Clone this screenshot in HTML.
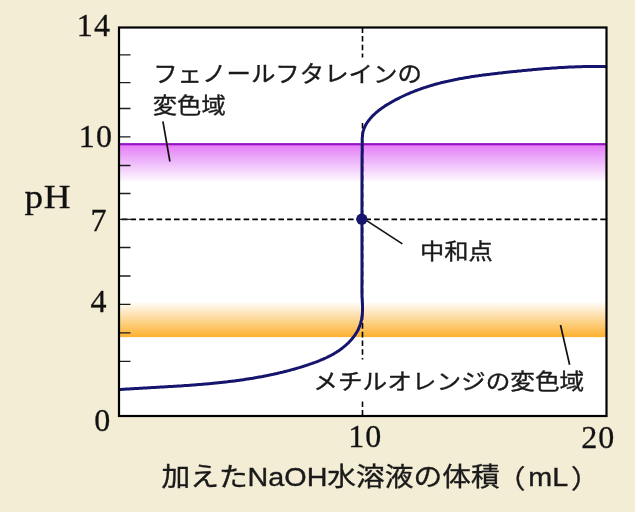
<!DOCTYPE html>
<html lang="ja">
<head>
<meta charset="utf-8">
<title>中和滴定曲線</title>
<style>
html,body{margin:0;padding:0;background:#f4edd6;}
body{width:635px;height:512px;overflow:hidden;}
svg{display:block;}
.jp{font-family:"Liberation Sans","Noto Sans CJK JP",sans-serif;fill:#1a1a1a;}
.num{font-family:"Liberation Serif",serif;fill:#111;}
</style>
</head>
<body>
<svg width="635" height="512" viewBox="0 0 635 512">
  <defs>
    <linearGradient id="gp" x1="0" y1="0" x2="0" y2="1">
      <stop offset="0" stop-color="#e67af6"/>
      <stop offset="0.4" stop-color="#ecb0fa"/>
      <stop offset="1" stop-color="#ffffff"/>
    </linearGradient>
    <linearGradient id="go" x1="0" y1="0" x2="0" y2="1">
      <stop offset="0" stop-color="#ffffff"/>
      <stop offset="1" stop-color="#fcb02e"/>
    </linearGradient>
  </defs>
  <rect x="0" y="0" width="635" height="512" fill="#f4edd6"/>
  <!-- plot area -->
  <rect x="119" y="27.5" width="487.5" height="388.5" fill="#ffffff"/>
  <!-- indicator bands -->
  <rect x="119" y="144" width="487.5" height="39" fill="url(#gp)"/>
  <rect x="119" y="143.1" width="487.5" height="2.2" fill="#9514c6"/>
  <rect x="119" y="301.5" width="487.5" height="35.6" fill="url(#go)"/>
  <!-- dashed guides -->
  <path d="M121.8 219.3H606.5" stroke="#000" stroke-width="1.7" stroke-dasharray="5.6 3.1" fill="none"/>
  <path d="M362.5 27.3V416" stroke="#000" stroke-width="1.6" stroke-dasharray="5.6 3.1" fill="none"/>
  <!-- label backgrounds -->
  <rect x="150" y="57.5" width="280" height="64.5" fill="#ffffff"/>
  <rect x="312" y="359.5" width="275" height="41.5" fill="#ffffff"/>
  <!-- ticks -->
  <g stroke="#1c1c1c" stroke-width="1.3" fill="none">
    <path d="M119 54.8h11.5M119 82.7h11.5M119 108.5h11.5M119 136.9h11.5M119 165.5h11.5M119 193.5h11.5M119 219.3h11.5M119 247.5h11.5M119 276h11.5M119 304.3h11.5M119 332.8h11.5M119 361.4h11.5"/>
  </g>
  <!-- leader lines -->
  <g stroke="#111" stroke-width="1.7" fill="none">
    <path d="M162.9 121.3L169.9 161.5"/>
    <path d="M560.5 325L569.6 364.8"/>
    <path d="M362 217.6L402.4 243.9"/>
  </g>
  <!-- curve -->
  <path id="curve" d="M119.0 389.6 L120.1 389.5 L121.3 389.4 L122.5 389.3 L123.7 389.3 L124.9 389.2 L126.2 389.1 L127.4 389.0 L128.6 389.0 L129.8 388.9 L131.0 388.8 L132.2 388.7 L133.4 388.7 L134.7 388.6 L135.9 388.5 L137.1 388.5 L138.3 388.4 L139.5 388.3 L140.7 388.2 L142.0 388.2 L143.2 388.1 L144.4 388.0 L145.6 388.0 L146.8 387.9 L148.0 387.8 L149.3 387.8 L150.5 387.7 L151.7 387.6 L152.9 387.5 L154.2 387.5 L155.4 387.4 L156.6 387.3 L157.8 387.3 L159.0 387.2 L160.3 387.1 L161.5 387.1 L162.7 387.0 L163.9 386.9 L165.2 386.8 L166.4 386.8 L167.6 386.7 L168.8 386.6 L170.0 386.6 L171.3 386.5 L172.5 386.4 L173.7 386.3 L174.9 386.2 L176.2 386.2 L177.4 386.1 L178.6 386.0 L179.8 385.9 L181.1 385.9 L182.3 385.8 L183.5 385.7 L184.7 385.6 L186.0 385.5 L187.2 385.4 L188.4 385.4 L189.6 385.3 L190.9 385.2 L192.1 385.1 L193.3 385.0 L194.5 384.9 L195.8 384.8 L197.0 384.7 L198.2 384.6 L199.4 384.5 L200.6 384.4 L201.9 384.3 L203.1 384.2 L204.3 384.1 L205.5 384.0 L206.8 383.9 L208.0 383.8 L209.2 383.7 L210.4 383.6 L211.6 383.4 L212.9 383.3 L214.1 383.2 L215.3 383.1 L216.5 383.0 L217.7 382.8 L219.0 382.7 L220.2 382.6 L221.4 382.5 L222.6 382.3 L223.8 382.2 L225.1 382.0 L226.3 381.9 L227.5 381.8 L228.7 381.6 L229.9 381.5 L231.1 381.3 L232.3 381.2 L233.6 381.0 L234.8 380.9 L236.0 380.7 L237.2 380.5 L238.4 380.4 L239.6 380.2 L240.8 380.0 L242.0 379.9 L243.3 379.7 L244.5 379.5 L245.7 379.3 L246.9 379.1 L248.1 379.0 L249.3 378.8 L250.5 378.6 L251.7 378.4 L252.9 378.2 L254.1 378.0 L255.3 377.8 L256.5 377.6 L257.7 377.3 L258.9 377.1 L260.1 376.9 L261.3 376.7 L262.5 376.5 L263.7 376.2 L264.9 376.0 L266.1 375.8 L267.3 375.5 L268.5 375.3 L269.7 375.0 L270.9 374.8 L272.1 374.5 L273.3 374.3 L274.5 374.0 L275.7 373.7 L276.8 373.5 L278.0 373.2 L279.2 372.9 L280.4 372.6 L281.6 372.4 L282.8 372.1 L284.0 371.8 L285.1 371.5 L286.3 371.2 L287.5 370.9 L288.7 370.6 L289.9 370.3 L291.0 369.9 L292.2 369.6 L293.4 369.3 L294.6 369.0 L295.7 368.6 L296.9 368.3 L298.1 367.9 L299.3 367.6 L300.4 367.2 L301.6 366.9 L302.8 366.5 L303.9 366.1 L305.1 365.8 L306.3 365.4 L307.4 365.0 L308.6 364.6 L309.7 364.2 L310.9 363.8 L312.1 363.4 L313.2 363.0 L314.4 362.6 L315.5 362.2 L316.7 361.8 L317.8 361.3 L318.9 360.9 L320.1 360.4 L321.2 359.9 L322.3 359.5 L323.4 359.0 L324.6 358.5 L325.7 358.0 L326.8 357.5 L327.9 356.9 L329.0 356.4 L330.1 355.8 L331.1 355.3 L332.2 354.7 L333.3 354.1 L334.3 353.5 L335.4 352.8 L336.4 352.2 L337.4 351.5 L338.5 350.9 L339.5 350.2 L340.5 349.4 L341.5 348.7 L342.5 348.0 L343.4 347.2 L344.4 346.4 L345.3 345.6 L346.3 344.8 L347.2 343.9 L348.1 343.1 L349.0 342.2 L349.8 341.3 L350.7 340.4 L351.5 339.5 L352.3 338.5 L353.1 337.6 L353.8 336.6 L354.6 335.6 L355.3 334.6 L355.9 333.5 L356.6 332.5 L357.2 331.4 L357.8 330.4 L358.3 329.3 L358.8 328.2 L359.3 327.1 L359.7 325.9 L360.1 324.8 L360.5 323.6 L360.8 322.5 L361.1 321.3 L361.4 320.1 L361.6 318.9 L361.8 317.7 L362.0 316.5 L362.2 315.3 L362.3 314.0 L362.4 312.8 L362.5 311.6 L362.5 310.4 L362.5 309.1 L362.5 307.9 L362.5 306.7 L362.5 305.4 L362.4 304.2 L362.4 303.0 L362.3 301.7 L362.2 300.5 L362.2 299.3 L362.1 298.1 L362.0 296.9 L362.0 295.7 L362.0 294.4 L361.9 293.2 L361.9 292.0 L362.0 270 L361.95 219 L362.0 170 L362.1 152.0 L362.2 150.8 L362.2 149.7 L362.2 148.5 L362.2 147.3 L362.2 146.1 L362.2 144.9 L362.2 143.7 L362.2 142.5 L362.2 141.3 L362.2 140.1 L362.2 138.9 L362.3 137.7 L362.4 136.6 L362.5 135.4 L362.6 134.2 L362.8 133.0 L363.0 131.9 L363.3 130.8 L363.7 129.6 L364.0 128.5 L364.5 127.5 L365.0 126.4 L365.5 125.4 L366.1 124.3 L366.7 123.3 L367.3 122.3 L368.0 121.4 L368.7 120.4 L369.5 119.5 L370.2 118.6 L371.0 117.7 L371.8 116.8 L372.6 115.9 L373.4 115.1 L374.3 114.3 L375.2 113.5 L376.1 112.7 L377.0 111.9 L377.9 111.2 L378.8 110.4 L379.7 109.7 L380.7 109.0 L381.7 108.3 L382.6 107.6 L383.6 107.0 L384.6 106.3 L385.6 105.6 L386.6 105.0 L387.6 104.4 L388.7 103.8 L389.7 103.2 L390.7 102.6 L391.7 102.0 L392.8 101.4 L393.8 100.8 L394.9 100.2 L395.9 99.7 L396.9 99.1 L398.0 98.6 L399.0 98.1 L400.1 97.5 L401.2 97.0 L402.2 96.5 L403.3 96.0 L404.4 95.5 L405.4 95.0 L406.5 94.5 L407.6 94.0 L408.7 93.6 L409.7 93.1 L410.8 92.7 L411.9 92.2 L413.0 91.8 L414.1 91.3 L415.2 90.9 L416.3 90.5 L417.4 90.1 L418.5 89.7 L419.6 89.3 L420.7 88.9 L421.8 88.5 L422.9 88.1 L424.0 87.7 L425.2 87.4 L426.3 87.0 L427.4 86.7 L428.5 86.3 L429.6 86.0 L430.8 85.6 L431.9 85.3 L433.0 85.0 L434.1 84.6 L435.3 84.3 L436.4 84.0 L437.5 83.7 L438.7 83.4 L439.8 83.1 L441.0 82.8 L442.1 82.5 L443.2 82.3 L444.4 82.0 L445.5 81.7 L446.7 81.4 L447.8 81.2 L449.0 80.9 L450.1 80.7 L451.3 80.4 L452.4 80.2 L453.6 79.9 L454.8 79.7 L455.9 79.5 L457.1 79.3 L458.2 79.0 L459.4 78.8 L460.6 78.6 L461.7 78.4 L462.9 78.2 L464.0 78.0 L465.2 77.8 L466.4 77.6 L467.5 77.4 L468.7 77.2 L469.9 77.0 L471.1 76.8 L472.2 76.6 L473.4 76.5 L474.6 76.3 L475.7 76.1 L476.9 75.9 L478.1 75.8 L479.3 75.6 L480.4 75.4 L481.6 75.3 L482.8 75.1 L484.0 75.0 L485.1 74.8 L486.3 74.7 L487.5 74.5 L488.7 74.4 L489.9 74.2 L491.0 74.1 L492.2 73.9 L493.4 73.8 L494.6 73.7 L495.8 73.5 L496.9 73.4 L498.1 73.2 L499.3 73.1 L500.5 73.0 L501.6 72.9 L502.8 72.7 L504.0 72.6 L505.2 72.5 L506.4 72.3 L507.5 72.2 L508.7 72.1 L509.9 72.0 L511.1 71.8 L512.3 71.7 L513.4 71.6 L514.6 71.5 L515.8 71.4 L517.0 71.2 L518.1 71.1 L519.3 71.0 L520.5 70.9 L521.7 70.8 L522.8 70.6 L524.0 70.5 L525.2 70.4 L526.4 70.3 L527.5 70.2 L528.7 70.1 L529.9 70.0 L531.1 69.9 L532.2 69.7 L533.4 69.6 L534.6 69.5 L535.7 69.4 L536.9 69.3 L538.1 69.2 L539.3 69.1 L540.4 69.0 L541.6 68.9 L542.8 68.8 L544.0 68.7 L545.1 68.6 L546.3 68.5 L547.5 68.5 L548.7 68.4 L549.8 68.3 L551.0 68.2 L552.2 68.1 L553.4 68.0 L554.5 67.9 L555.7 67.9 L556.9 67.8 L558.1 67.7 L559.2 67.6 L560.4 67.6 L561.6 67.5 L562.8 67.4 L563.9 67.4 L565.1 67.3 L566.3 67.2 L567.5 67.2 L568.6 67.1 L569.8 67.1 L571.0 67.0 L572.2 67.0 L573.3 66.9 L574.5 66.9 L575.7 66.8 L576.9 66.8 L578.1 66.8 L579.2 66.7 L580.4 66.7 L581.6 66.7 L582.8 66.6 L584.0 66.6 L585.2 66.6 L586.3 66.6 L587.5 66.6 L588.7 66.5 L589.9 66.5 L591.1 66.5 L592.3 66.5 L593.5 66.5 L594.6 66.5 L595.8 66.5 L597.0 66.5 L598.2 66.5 L599.4 66.6 L600.6 66.6 L601.8 66.6 L603.0 66.6 L604.2 66.6 L605.4 66.7 L606.5 66.7" stroke="#15156e" stroke-width="3" fill="none" stroke-linejoin="round"/>
  <circle cx="361.8" cy="219.2" r="5.6" fill="#15156e"/>
  <!-- frame -->
  <rect x="119" y="27.5" width="487.5" height="388.5" fill="none" stroke="#000" stroke-width="2.2"/>
  <!-- axis numbers -->
  <g class="num" font-size="32" stroke="#111" stroke-width="0.3">
    <text x="111.2" y="35.9" text-anchor="end" letter-spacing="1.2">14</text>
    <text x="113.2" y="146.5" text-anchor="end" letter-spacing="1.2">10</text>
    <text x="106.4" y="230.5" text-anchor="end">7</text>
    <text x="106.4" y="311.8" text-anchor="end">4</text>
    <text x="110.2" y="430.5" text-anchor="end">0</text>
    <text x="365.2" y="447.1" text-anchor="middle" letter-spacing="1">10</text>
    <text x="598.2" y="448.1" text-anchor="middle" letter-spacing="1">20</text>
  </g>
  <text class="num" transform="translate(24.6 207.8) scale(1.085 1)" font-size="34.3" letter-spacing="0.5" stroke="#111" stroke-width="0.3">pH</text>
  <!-- labels -->
  <g class="jp" font-size="21.8" stroke="#1a1a1a" stroke-width="0.35">
    <text transform="translate(153.2 82.4) scale(1.096 1)" font-size="22.3">フェノールフタレインの</text>
    <text transform="translate(152.8 113.3) scale(1.115 1)">変色域</text>
    <text transform="translate(420 259) scale(1.115 1)">中和点</text>
    <text transform="translate(313.3 388.7) scale(1.115 1)" font-size="22.1">メチルオレンジの変色域</text>
  </g>
  <text class="jp" transform="translate(161.5 486) scale(1.105 1)" font-size="26" stroke="#1a1a1a" stroke-width="0.35">加えたNaOH水溶液の体積<tspan dx="-2.6" dy="2.2">（</tspan><tspan dx="2.6" dy="-2.2">mL</tspan><tspan dx="2.6" dy="2.2">）</tspan></text>
</svg>
</body>
</html>
